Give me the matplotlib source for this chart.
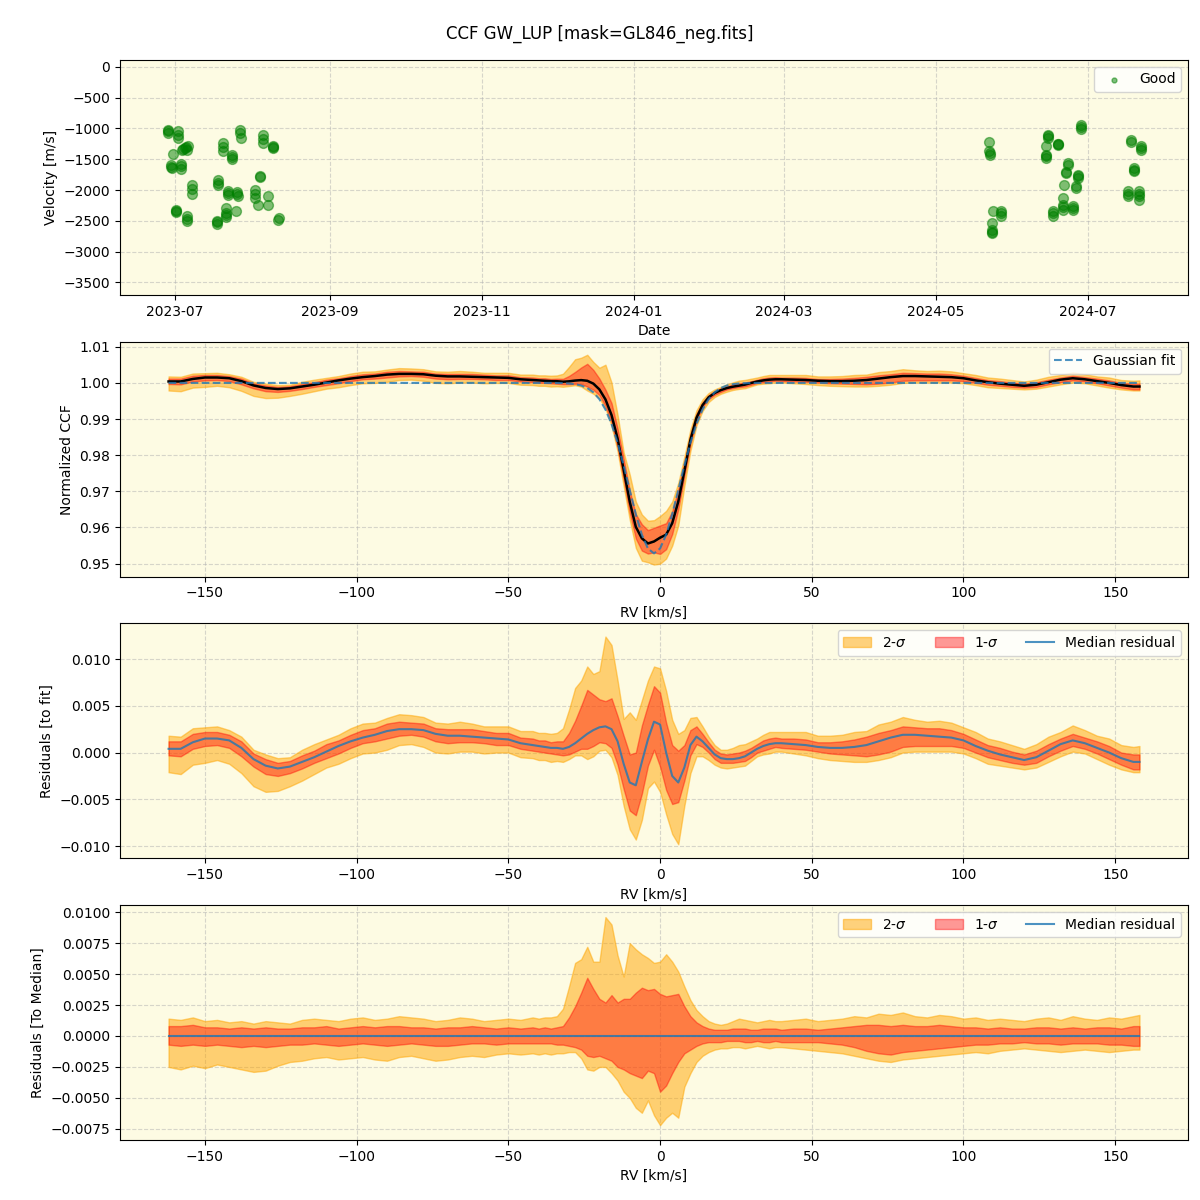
import matplotlib
matplotlib.use("Agg")
import matplotlib.pyplot as plt
import matplotlib.dates as mdates
import numpy as np
import pandas as pd

# --- radial velocity time series (Good points) ---
obs_dates = [
    "2023-06-28 07:00", "2023-06-28 07:30", "2023-07-02 07:00", "2023-07-02 07:30",
    "2023-06-30 07:00", "2023-07-03 17:00", "2023-07-05 00:00", "2023-07-06 07:00",
    "2023-07-05 17:00", "2023-06-29 10:00", "2023-06-29 17:00", "2023-07-03 10:00",
    "2023-07-03 10:30", "2023-07-07 17:00", "2023-07-07 17:30", "2023-07-01 07:00",
    "2023-07-01 07:30", "2023-07-05 17:00", "2023-07-05 17:30", "2023-07-17 17:00",
    "2023-07-17 17:30", "2023-07-18 10:00", "2023-07-18 10:30", "2023-07-20 10:00",
    "2023-07-20 10:30", "2023-07-22 10:00", "2023-07-22 10:30", "2023-07-21 12:00",
    "2023-07-21 12:30", "2023-07-21 13:00", "2023-07-23 19:00", "2023-07-23 19:30",
    "2023-07-25 19:00", "2023-07-26 10:00", "2023-07-25 10:00", "2023-07-27 02:00",
    "2023-07-27 12:00", "2023-08-02 02:00", "2023-08-02 02:30", "2023-08-03 10:00",
    "2023-08-04 02:00", "2023-08-05 10:00", "2023-08-05 10:30", "2023-08-09 10:00",
    "2023-08-09 10:30", "2023-08-07 10:00", "2023-08-07 10:30", "2023-08-11 12:00",
    "2023-06-28 08:00", "2023-07-02 08:00", "2023-07-04 10:00", "2023-07-05 10:00",
    "2023-06-29 12:00", "2023-07-03 12:00", "2023-07-07 18:00", "2023-07-01 08:00",
    "2023-07-05 18:00", "2023-07-17 18:00", "2023-07-18 11:00", "2023-07-20 11:00",
    "2023-07-22 11:00", "2023-07-21 13:30", "2023-07-23 20:00", "2023-07-25 20:00",
    "2023-07-27 03:00", "2023-08-02 03:00", "2023-08-04 03:00", "2023-08-05 11:00",
    "2023-08-09 11:00", "2023-08-11 13:00",
    "2024-05-22 10:00", "2024-05-22 10:30", "2024-05-22 11:00", "2024-05-23 17:00",
    "2024-05-23 10:00", "2024-05-23 10:30", "2024-05-23 11:00", "2024-05-27 00:00",
    "2024-05-27 00:30", "2024-06-14 19:00", "2024-06-14 19:30", "2024-06-14 02:00",
    "2024-06-14 02:30", "2024-06-14 03:00", "2024-06-16 19:00", "2024-06-16 19:30",
    "2024-06-19 00:00", "2024-06-19 00:30", "2024-06-20 19:00", "2024-06-20 19:30",
    "2024-06-20 20:00", "2024-06-21 05:00", "2024-06-22 02:00", "2024-06-22 19:00",
    "2024-06-24 19:00", "2024-06-24 19:30", "2024-06-26 05:00", "2024-06-26 19:00",
    "2024-06-26 19:30", "2024-06-28 05:00", "2024-06-28 05:30", "2024-07-17 00:00",
    "2024-07-17 00:30", "2024-07-18 05:00", "2024-07-19 05:00", "2024-07-19 05:30",
    "2024-07-21 05:00", "2024-07-21 05:30", "2024-07-21 06:00", "2024-07-22 00:00",
    "2024-07-22 00:30",
    "2024-05-22 11:30", "2024-05-23 11:30", "2024-05-27 01:00", "2024-06-14 20:00",
    "2024-06-14 03:30", "2024-06-16 20:00", "2024-06-19 01:00", "2024-06-20 20:30",
    "2024-06-22 03:00", "2024-06-22 20:00", "2024-06-24 20:00", "2024-06-26 06:00",
    "2024-06-26 20:00", "2024-06-28 06:00", "2024-07-17 01:00", "2024-07-18 06:00",
    "2024-07-19 06:00", "2024-07-21 06:30", "2024-07-22 01:00",
]
obs_vel = [
    -1020, -1075, -1037, -1156, -1410, -1345, -1312, -1290,
    -1345, -1588, -1640, -1576, -1652, -1923, -2057, -2317,
    -2354, -2425, -2506, -2506, -2548, -1831, -1923, -1236,
    -1361, -2020, -2074, -2289, -2370, -2441, -1426, -1490,
    -2030, -2101, -2333, -1021, -1155, -1993, -2127, -2236,
    -1777, -1113, -1236, -1291, -1317, -2101, -2236, -2479,
    -1040, -1100, -1330, -1300, -1620, -1610, -1990, -2335,
    -2470, -2525, -1880, -1300, -2050, -2400, -1460, -2060,
    -1080, -2060, -1790, -1170, -1300, -2460,
    -1220, -1372, -1426, -2344, -2533, -2652, -2695, -2344,
    -2425, -1102, -1156, -1291, -1426, -1479, -2344, -2425,
    -1250, -1275, -2127, -2236, -2317, -1912, -1722, -1560,
    -2263, -2317, -1965, -1750, -1804, -940, -1010, -2020,
    -2090, -1194, -1641, -1696, -2020, -2101, -2166, -1280,
    -1345,
    -1400, -2680, -2380, -1130, -1450, -2380, -1260, -2280,
    -1700, -1600, -2290, -1940, -1780, -980, -2060, -1220,
    -1670, -2060, -1310,
]

# --- CCF profile: RV grid, median residual to fit, percentile bands about the median ---
rv = [
    -162, -158, -154, -150, -146, -142, -138, -134, -130, -126, -122, -118, -114, -110,
    -106, -102, -98, -94, -90, -86, -82, -78, -74, -70, -66, -62, -58, -54, -50, -46, -42,
    -40, -38, -36, -34, -32, -30, -28, -26, -24, -22, -20, -18, -16, -14, -12, -10, -8,
    -6, -4, -2, 0, 2, 4, 6, 8, 10, 12, 14, 16, 18, 20, 22, 24, 26, 28, 30, 32, 34, 36,
    38, 40, 44, 48, 52, 56, 60, 64, 68, 72, 76, 80, 84, 88, 92, 96, 100, 104, 108, 112,
    116, 120, 124, 128, 132, 136, 140, 144, 148, 152, 156, 158,
]
med_resid = [
    0.0004, 0.0004, 0.0011, 0.0015, 0.0015, 0.0013, 0.0005, -0.0007, -0.0014, -0.0017,
    -0.0015, -0.0010, -0.0005, 0.0001, 0.0007, 0.0012, 0.0016, 0.0019, 0.0023, 0.0025,
    0.0025, 0.0024, 0.0020, 0.0018, 0.0018, 0.0017, 0.0016, 0.0015, 0.0014, 0.0010, 0.0008,
    0.0007, 0.0006, 0.0005, 0.0005, 0.0004, 0.0006, 0.0010, 0.0015, 0.0020, 0.0024,
    0.0027, 0.0028, 0.0025, 0.0012, -0.0012, -0.0032, -0.0035, -0.0010, 0.0014, 0.0033,
    0.0030, 0.0000, -0.0025, -0.0032, -0.0016, 0.0008, 0.0017, 0.0012, 0.0005, -0.0002,
    -0.0006, -0.0007, -0.0007, -0.0006, -0.0004, 0.0000, 0.0004, 0.0007, 0.0009, 0.0010,
    0.0010, 0.0009, 0.0008, 0.0006, 0.0005, 0.0005, 0.0006, 0.0008, 0.0012, 0.0016,
    0.0019, 0.0019, 0.0018, 0.0017, 0.0016, 0.0013, 0.0007, 0.0002, -0.0002, -0.0005,
    -0.0008, -0.0005, 0.0002, 0.0009, 0.0013, 0.0010, 0.0005, 0.0000, -0.0006, -0.0010,
    -0.0010,
]
s2_hi = [
    0.0014, 0.0013, 0.0015, 0.0012, 0.0013, 0.0011, 0.0012, 0.0010, 0.0012, 0.0011,
    0.0010, 0.0013, 0.0014, 0.0013, 0.0012, 0.0014, 0.0015, 0.0013, 0.0014, 0.0016,
    0.0015, 0.0014, 0.0012, 0.0013, 0.0015, 0.0014, 0.0012, 0.0013, 0.0014, 0.0013, 0.0015,
    0.0014, 0.0015, 0.0015, 0.0016, 0.0022, 0.0040, 0.0059, 0.0062, 0.0072, 0.0060,
    0.0060, 0.0096, 0.0090, 0.0065, 0.0048, 0.0075, 0.0070, 0.0066, 0.0063, 0.0059,
    0.0060, 0.0066, 0.0060, 0.0052, 0.0040, 0.0029, 0.0021, 0.0016, 0.0012, 0.0010,
    0.0009, 0.0010, 0.0012, 0.0014, 0.0013, 0.0012, 0.0011, 0.0012, 0.0013, 0.0012,
    0.0012, 0.0013, 0.0014, 0.0012, 0.0013, 0.0014, 0.0016, 0.0015, 0.0018, 0.0017,
    0.0019, 0.0016, 0.0015, 0.0017, 0.0016, 0.0014, 0.0015, 0.0013, 0.0014, 0.0013,
    0.0012, 0.0014, 0.0015, 0.0013, 0.0016, 0.0014, 0.0013, 0.0015, 0.0014, 0.0016,
    0.0017,
]
s1_hi = [
    0.0008, 0.0008, 0.0009, 0.0007, 0.0007, 0.0006, 0.0007, 0.0006, 0.0007, 0.0006,
    0.0006, 0.0007, 0.0007, 0.0008, 0.0006, 0.0007, 0.0008, 0.0007, 0.0008, 0.0008,
    0.0007, 0.0007, 0.0006, 0.0007, 0.0007, 0.0008, 0.0007, 0.0006, 0.0007, 0.0006, 0.0007,
    0.0006, 0.0007, 0.0006, 0.0007, 0.0008, 0.0015, 0.0024, 0.0035, 0.0047, 0.0038,
    0.0030, 0.0027, 0.0033, 0.0027, 0.0030, 0.0030, 0.0035, 0.0039, 0.0037, 0.0038,
    0.0034, 0.0032, 0.0033, 0.0034, 0.0024, 0.0016, 0.0011, 0.0008, 0.0006, 0.0005,
    0.0005, 0.0005, 0.0006, 0.0006, 0.0006, 0.0005, 0.0005, 0.0006, 0.0006, 0.0006,
    0.0005, 0.0006, 0.0006, 0.0005, 0.0006, 0.0007, 0.0008, 0.0009, 0.0009, 0.0008,
    0.0009, 0.0008, 0.0008, 0.0009, 0.0008, 0.0007, 0.0007, 0.0006, 0.0007, 0.0006,
    0.0006, 0.0007, 0.0007, 0.0006, 0.0007, 0.0006, 0.0007, 0.0007, 0.0006, 0.0008,
    0.0008,
]
s1_lo = [
    -0.0007, -0.0008, -0.0007, -0.0008, -0.0007, -0.0008, -0.0009, -0.0008, -0.0009, -0.0008,
    -0.0007, -0.0007, -0.0006, -0.0007, -0.0008, -0.0007, -0.0006, -0.0007, -0.0008, -0.0007,
    -0.0006, -0.0007, -0.0008, -0.0008, -0.0007, -0.0006, -0.0006, -0.0007, -0.0006, -0.0006, -0.0006,
    -0.0006, -0.0006, -0.0006, -0.0007, -0.0007, -0.0008, -0.0009, -0.0011, -0.0016, -0.0017,
    -0.0016, -0.0018, -0.0020, -0.0025, -0.0027, -0.0030, -0.0032, -0.0034, -0.0028, -0.0030,
    -0.0045, -0.0040, -0.0030, -0.0021, -0.0014, -0.0011, -0.0008, -0.0006, -0.0005, -0.0005,
    -0.0005, -0.0004, -0.0004, -0.0004, -0.0005, -0.0005, -0.0004, -0.0005, -0.0005, -0.0004,
    -0.0005, -0.0005, -0.0005, -0.0005, -0.0006, -0.0007, -0.0009, -0.0012, -0.0014, -0.0015,
    -0.0013, -0.0012, -0.0011, -0.0010, -0.0009, -0.0008, -0.0007, -0.0007, -0.0006, -0.0006,
    -0.0005, -0.0006, -0.0006, -0.0007, -0.0006, -0.0006, -0.0006, -0.0007, -0.0007, -0.0008,
    -0.0008,
]
s2_lo = [
    -0.0025, -0.0027, -0.0024, -0.0026, -0.0023, -0.0025, -0.0027, -0.0029, -0.0028, -0.0024,
    -0.0021, -0.0020, -0.0018, -0.0017, -0.0019, -0.0018, -0.0017, -0.0019, -0.0020, -0.0017,
    -0.0016, -0.0018, -0.0020, -0.0019, -0.0017, -0.0016, -0.0017, -0.0015, -0.0014, -0.0015, -0.0014,
    -0.0015, -0.0014, -0.0015, -0.0014, -0.0014, -0.0013, -0.0013, -0.0018, -0.0027, -0.0028,
    -0.0025, -0.0025, -0.0030, -0.0036, -0.0045, -0.0050, -0.0058, -0.0062, -0.0052, -0.0064,
    -0.0072, -0.0066, -0.0062, -0.0066, -0.0041, -0.0030, -0.0021, -0.0016, -0.0013, -0.0011,
    -0.0010, -0.0010, -0.0009, -0.0009, -0.0010, -0.0009, -0.0008, -0.0009, -0.0010, -0.0009,
    -0.0009, -0.0010, -0.0011, -0.0012, -0.0013, -0.0014, -0.0016, -0.0018, -0.0020, -0.0021,
    -0.0019, -0.0018, -0.0017, -0.0016, -0.0015, -0.0014, -0.0013, -0.0014, -0.0012, -0.0011,
    -0.0010, -0.0011, -0.0012, -0.0013, -0.0012, -0.0011, -0.0012, -0.0013, -0.0012, -0.0011,
    -0.0011,
]

# gaussian fit parameters (continuum, depth, centre, width in km/s)
fit_cont = 1.0
fit_depth = 0.0472
fit_mu = -2.0
fit_sigma = 8.3

rv = np.array(rv)
med_resid = np.array(med_resid)
s2_hi, s1_hi = np.array(s2_hi), np.array(s1_hi)
s1_lo, s2_lo = np.array(s1_lo), np.array(s2_lo)
fit = fit_cont - fit_depth * np.exp(-(rv - fit_mu) ** 2 / (2 * fit_sigma ** 2))
ccf_med = fit + med_resid

bg = "#fdfbe3"
c2 = dict(color="orange", alpha=0.5)
c1 = dict(color="red", alpha=0.4)

fig, axes = plt.subplots(4, 1, figsize=(12, 12), dpi=100)
fig.subplots_adjust(left=0.1, right=0.99, top=0.95, bottom=0.05, hspace=0.2)
fig.suptitle("CCF GW_LUP [mask=GL846_neg.fits]", fontsize=12, y=0.979)

for ax in axes:
    ax.set_facecolor(bg)
    ax.grid(True, linestyle="--", alpha=0.5)
    ax.set_axisbelow(True)

# panel 1: velocities
ax = axes[0]
ax.scatter(pd.to_datetime(obs_dates), obs_vel, s=50, color="green", alpha=0.5, label="Good")
ax.set_ylim(-3700, 110)
ax.set_xlim(pd.Timestamp("2023-06-09"), pd.Timestamp("2024-08-10"))
ax.xaxis.set_major_locator(mdates.MonthLocator(bymonth=[1, 3, 5, 7, 9, 11]))
ax.xaxis.set_major_formatter(mdates.DateFormatter("%Y-%m"))
ax.set_xlabel("Date")
ax.set_ylabel("Velocity [m/s]")
ax.legend(loc="upper right", markerscale=0.5)

# panel 2: CCF
ax = axes[1]
ax.fill_between(rv, ccf_med + s2_lo, ccf_med + s2_hi, **c2)
ax.fill_between(rv, ccf_med + s1_lo, ccf_med + s1_hi, **c1)
ax.plot(rv, ccf_med, color="black", lw=1.8)
ax.plot(rv, fit, "--", color="C0", alpha=0.8, lw=1.5, label="Gaussian fit")
ax.set_ylim(0.9464, 1.0114)
ax.set_xlabel("RV [km/s]")
ax.set_ylabel("Normalized CCF")
ax.legend(loc="upper right")

# panel 3: residuals to fit
ax = axes[2]
ax.fill_between(rv, med_resid + s2_lo, med_resid + s2_hi, label="2-$\\sigma$", **c2)
ax.fill_between(rv, med_resid + s1_lo, med_resid + s1_hi, label="1-$\\sigma$", **c1)
ax.plot(rv, med_resid, color="C0", alpha=0.8, lw=1.5, label="Median residual")
ax.set_ylim(-0.0113, 0.0138)
ax.set_xlabel("RV [km/s]")
ax.set_ylabel("Residuals [to fit]")
ax.legend(loc="upper right", ncol=3)

# panel 4: residuals to median
ax = axes[3]
ax.fill_between(rv, s2_lo, s2_hi, label="2-$\\sigma$", **c2)
ax.fill_between(rv, s1_lo, s1_hi, label="1-$\\sigma$", **c1)
ax.plot(rv, np.zeros(rv.shape), color="C0", alpha=0.8, lw=1.5, label="Median residual")
ax.set_ylim(-0.0084, 0.01056)
ax.set_xlabel("RV [km/s]")
ax.set_ylabel("Residuals [To Median]")
ax.legend(loc="upper right", ncol=3)

fig.savefig("out.png")
